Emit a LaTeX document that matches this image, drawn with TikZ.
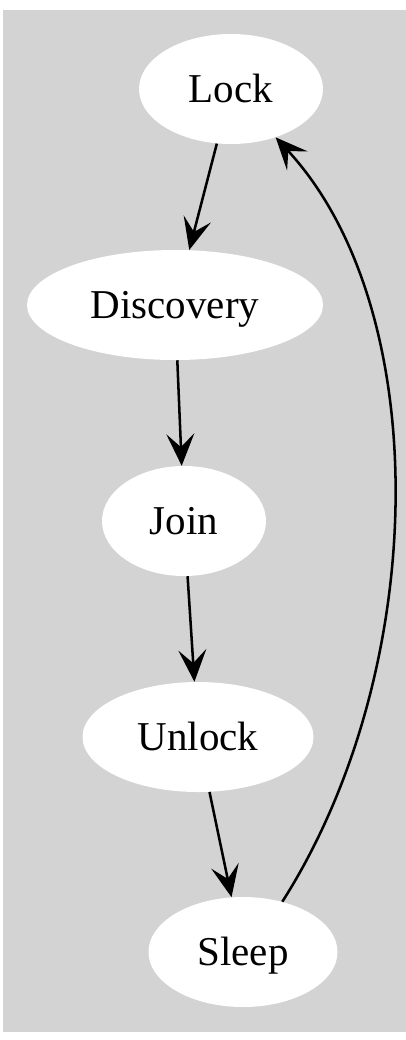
\documentclass[tikz,border=0pt]{standalone}
\usepackage{fontspec}
\setmainfont{Liberation Serif}
\usetikzlibrary{shapes.geometric,arrows.meta}
\definecolor{bggray}{HTML}{D3D3D3}
\tikzset{
  state/.style={ellipse, fill=white, draw=none, inner sep=0pt,
    minimum height=82.5pt, text height=20.3pt, text depth=0pt,
    font=\fontsize{30.75}{36}\selectfont},
  edge/.style={line width=1.9pt, -{Stealth[length=24pt,width=21pt,inset=10pt]}}
}
\begin{document}
\begin{tikzpicture}[x=0.75pt,y=-0.75pt]
\useasboundingbox (0,0) rectangle (406,1040);
\fill[bggray] (3,10) rectangle (406,1032);
\node[state, minimum width=138pt] (lock) at (231,89) {Lock};
\node[state, minimum width=222pt] (disc) at (175,305) {Discovery};
\node[state, minimum width=123pt] (join) at (184,521) {Join};
\node[state, minimum width=173.25pt] (unlock) at (198,737) {Unlock};
\node[state, minimum width=141.75pt] (sleep) at (243,952) {Sleep};
\draw[edge] (lock) -- (disc);
\draw[edge] (disc) -- (join);
\draw[edge] (join) -- (unlock);
\draw[edge] (unlock) -- (sleep);
\draw[edge] (sleep.52) .. controls (430,670) and (435,310) .. (lock);
\end{tikzpicture}
\end{document}
